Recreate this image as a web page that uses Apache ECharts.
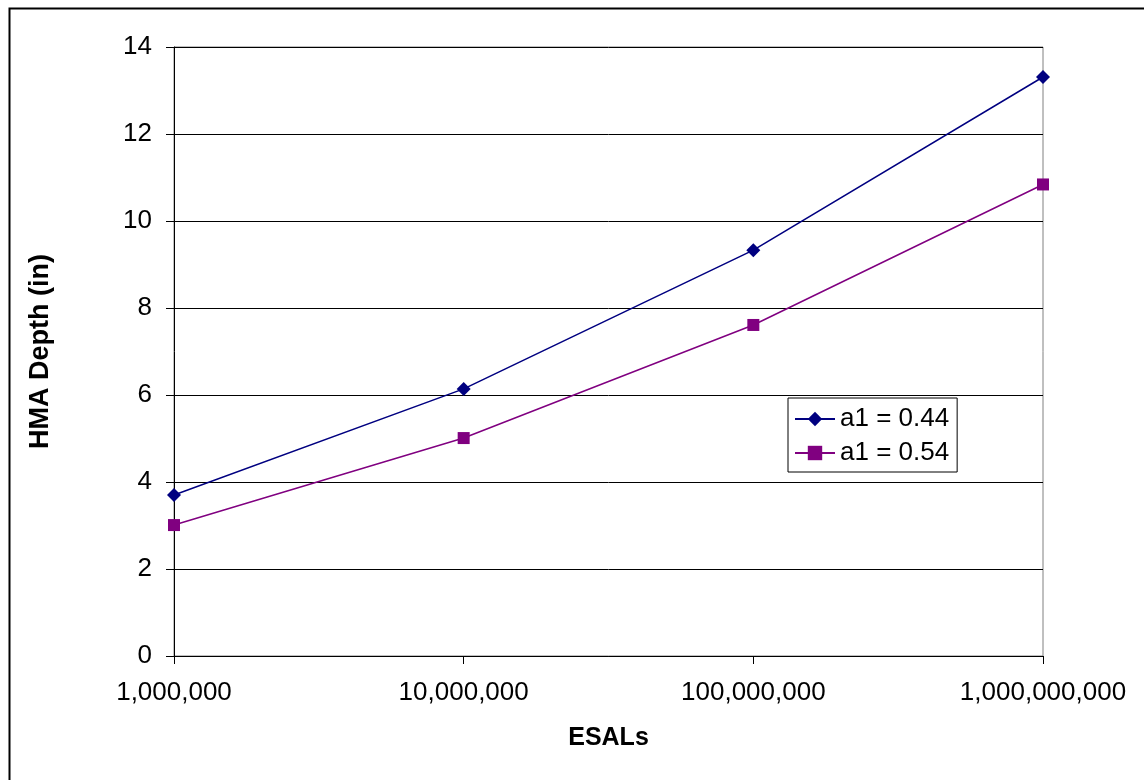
<!DOCTYPE html>
<html><head><meta charset="utf-8">
<script src="https://cdn.jsdelivr.net/npm/echarts@6/dist/echarts.min.js"></script>
<style>html,body{margin:0;padding:0;background:#fff}#c{width:1144px;height:780px}</style>
</head><body><div id="c"></div>
<script>
const esals = [1000000, 10000000, 100000000, 1000000000];
const depthA044 = [3.70, 6.14, 9.33, 13.31];
const depthA054 = [3.01, 5.01, 7.61, 10.84];
const seriesNames = ['a1 = 0.44', 'a1 = 0.54'];
const xTitle = 'ESALs';
const yTitle = 'HMA Depth (in)';

const chart = echarts.init(document.getElementById('c'), null, {renderer: 'canvas'});
const font = 'Arial, "Liberation Sans", sans-serif';
chart.setOption({
  backgroundColor: '#fff',
  animation: false,
  graphic: [{
    type: 'rect', left: 7, top: 6, z: -1,
    shape: {x: 0, y: 0, width: 1160, height: 800},
    style: {fill: 'none', stroke: '#000', lineWidth: 2}
  }, {
    type: 'rect', z: -1,
    shape: {x: 174, y: 47, width: 869, height: 609},
    style: {fill: 'none', stroke: '#808080', lineWidth: 1}
  }],
  grid: {left: 174, right: 101, top: 47, bottom: 124},
  legend: {
    orient: 'vertical', left: 788, top: 398,
    data: seriesNames,
    borderColor: '#000', borderWidth: 1, padding: [8, 8, 6, 6],
    itemGap: 8, itemWidth: 40, itemHeight: 18,
    textStyle: {fontFamily: font, fontSize: 26, color: '#000'}
  },
  xAxis: {
    type: 'log', logBase: 10, min: 1000000, max: 1000000000,
    name: xTitle, nameLocation: 'middle', nameGap: 70,
    nameTextStyle: {fontFamily: font, fontSize: 25, fontWeight: 'bold', color: '#000'},
    axisLine: {lineStyle: {color: '#000', width: 1}},
    axisTick: {show: true, inside: false, length: 8, lineStyle: {color: '#000'}},
    axisLabel: {fontFamily: font, fontSize: 26, color: '#000', margin: 24,
      formatter: v => Math.round(v).toLocaleString('en-US')},
    splitLine: {show: false},
    minorTick: {show: false}
  },
  yAxis: {
    type: 'value', min: 0, max: 14, interval: 2,
    name: yTitle, nameLocation: 'middle', nameGap: 120, nameRotate: 90,
    nameTextStyle: {fontFamily: font, fontSize: 27, fontWeight: 'bold', color: '#000'},
    axisLine: {show: true, lineStyle: {color: '#000', width: 1}},
    axisTick: {show: true, length: 8, lineStyle: {color: '#000'}},
    axisLabel: {fontFamily: font, fontSize: 26, color: '#000', margin: 22},
    splitLine: {show: true, lineStyle: {color: '#000', width: 1}}
  },
  series: [{
    name: seriesNames[0], type: 'line',
    data: esals.map((x, i) => [x, depthA044[i]]),
    symbol: 'diamond', symbolSize: 14,
    itemStyle: {color: '#000080'},
    lineStyle: {color: '#000080', width: 1.5}
  }, {
    name: seriesNames[1], type: 'line',
    data: esals.map((x, i) => [x, depthA054[i]]),
    symbol: 'rect', symbolSize: 12,
    itemStyle: {color: '#800080'},
    lineStyle: {color: '#800080', width: 1.5}
  }]
});
</script></body></html>
